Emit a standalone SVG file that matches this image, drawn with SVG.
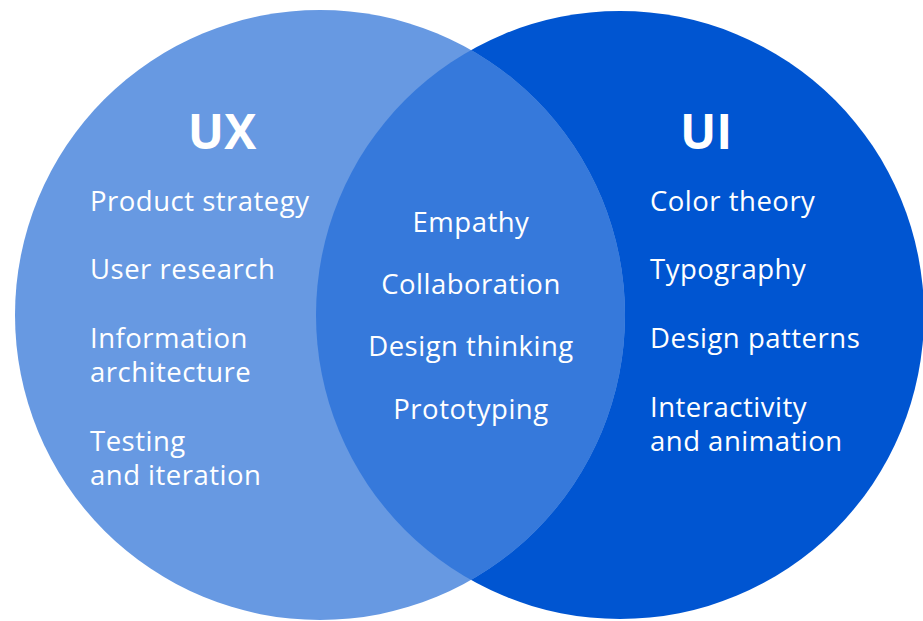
<svg xmlns="http://www.w3.org/2000/svg" width="923" height="621" viewBox="0 0 923 621">
  <defs>
    <style>
      .t { font-family: "Open Sans", "Liberation Sans", sans-serif; font-size: 27.5px; letter-spacing: 0.5px; fill: #ffffff; }
      .h { font-family: "Open Sans", "Liberation Sans", sans-serif; font-size: 48px; font-weight: bold; fill: #ffffff; }
      .c { text-anchor: middle; }
    </style>
    <clipPath id="clipLeft">
      <circle cx="320" cy="315" r="305"/>
    </clipPath>
  </defs>
  <rect width="923" height="621" fill="#ffffff"/>
  <g id="ui-circle">
    <circle cx="620" cy="315" r="304" fill="#0055d1"/>
  </g>
  <g id="ux-circle">
    <circle cx="320" cy="315" r="305" fill="#6799e2"/>
  </g>
  <g id="overlap">
    <circle cx="620" cy="315" r="304" fill="#3679db" clip-path="url(#clipLeft)"/>
  </g>
  <g id="ux-text">
    <text class="h c" x="222" y="149">UX</text>
    <text class="t" x="90" y="211">Product strategy</text>
    <text class="t" x="90" y="279">User research</text>
    <text class="t" x="90" y="348">Information</text>
    <text class="t" x="90" y="382">architecture</text>
    <text class="t" x="90" y="451">Testing</text>
    <text class="t" x="90" y="485">and iteration</text>
  </g>
  <g id="shared-text">
    <text class="t c" x="471" y="232">Empathy</text>
    <text class="t c" x="471" y="294">Collaboration</text>
    <text class="t c" x="471" y="356">Design thinking</text>
    <text class="t c" x="471" y="419">Prototyping</text>
  </g>
  <g id="ui-text">
    <text class="h c" x="706" y="149">UI</text>
    <text class="t" x="650" y="211">Color theory</text>
    <text class="t" x="650" y="279">Typography</text>
    <text class="t" x="650" y="348">Design patterns</text>
    <text class="t" x="650" y="417">Interactivity</text>
    <text class="t" x="650" y="451">and animation</text>
  </g>
  <g id="connectors"/>
</svg>
